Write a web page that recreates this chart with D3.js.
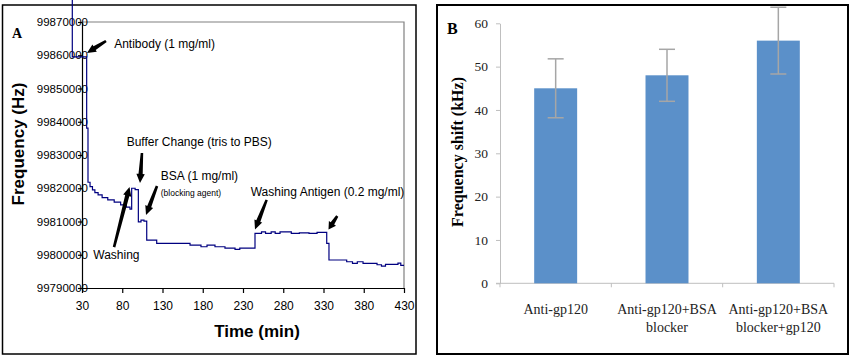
<!DOCTYPE html>
<html>
<head>
<meta charset="utf-8">
<script src="https://cdn.jsdelivr.net/npm/d3@7"></script>
<style>
body { margin: 0; background: #fff; }
svg { display: block; }
</style>
</head>
<body>
<script>
// ---- Panel A: frequency trace (time in min, frequency in Hz)
var traceTime = [17.95, 17.95, 35.8, 37.45, 40, 43, 46, 50, 55, 62, 70, 78, 85, 89.6, 91.7, 96, 100, 103.3, 107,
    110.4, 122.8, 164.2, 177.8, 185.3, 195.2, 207.6, 220.1, 226, 232.5, 244.9, 250, 253, 258, 265, 270, 276, 290,
    300, 312, 322, 334.0, 336.8, 358.8, 366, 372, 379.1, 396.5, 402, 407, 415.1, 422.5, 426, 430];
var traceFreq = [99876600, 99859500, 99838100, 99821800, 99820500, 99819500, 99818700, 99818000, 99817200, 99816500,
    99815800, 99815000, 99814300, 99813700, 99820000, 99819600, 99809900, 99810400, 99810100,
    99804400, 99803400, 99802900, 99802400, 99802900, 99802400, 99802000, 99801600, 99802000, 99802000, 99806450,
    99806450, 99806900, 99806450, 99806900, 99806450, 99806900, 99806450,
    99806600, 99806450, 99806700, 99803440, 99798420, 99797900, 99797400, 99797900, 99797400, 99797000, 99796600,
    99797100, 99797100, 99797500, 99796800, 99796800];
var timeTicks = [30, 80, 130, 180, 230, 280, 330, 380, 430];
var freqTicks = [99790000, 99800000, 99810000, 99820000, 99830000, 99840000, 99850000, 99860000, 99870000];

// annotations (anchor in time / frequency units)
var noteText = ["Antibody (1 mg/ml)", "Buffer Change (tris to PBS)", "BSA (1 mg/ml)", "(blocking agent)",
    "Washing", "Washing Antigen (0.2 mg/ml)"];
var noteTime = [70, 85.5, 127.8, 127.8, 44, 239.6];
var noteFreq = [99862200, 99832700, 99822500, 99817700, 99798700, 99817700];
var arrowFrom = [[59.8, 99864300], [104.5, 99830600], [123.2, 99820700], [69.8, 99802300], [259.4, 99816500], [347.1, 99811650]];
var arrowTo = [[36.2, 99860700], [102.0, 99821600], [109.5, 99811950], [89.0, 99820400], [244.9, 99807600], [336.2, 99807600]];

// ---- Panel B: frequency shift bars (kHz)
var categories = ["Anti-gp120", "Anti-gp120+BSA blocker", "Anti-gp120+BSA blocker+gp120"];
var shiftValues = [45, 48, 56];
var shiftErrors = [6.8, 6.0, 7.7];
var shiftTicks = [0, 10, 20, 30, 40, 50, 60];

var svg = d3.select("body").append("svg")
    .attr("width", 850)
    .attr("height", 364);

// panel frames
svg.append("rect").attr("x", 2.5).attr("y", 5).attr("width", 413.5).attr("height", 349)
    .attr("fill", "none").attr("stroke", "#000").attr("stroke-width", 1.5);
svg.append("rect").attr("x", 437).attr("y", 5).attr("width", 411).attr("height", 349)
    .attr("fill", "none").attr("stroke", "#000").attr("stroke-width", 2);

// ================= Panel A =================
var xA = d3.scaleLinear().domain([30, 430]).range([82, 404]);
var yA = d3.scaleLinear().domain([99790000, 99870000]).range([288, 22]);

var gA = svg.append("g");

// gray top / right frame of the plot area
gA.append("path")
    .attr("d", "M" + xA(30) + "," + yA(99870000) + "H" + xA(430) + "V" + yA(99790000))
    .attr("fill", "none").attr("stroke", "#808080").attr("stroke-width", 1.2);

var axA = gA.append("g")
    .attr("transform", "translate(0," + yA(99790000) + ")")
    .call(d3.axisBottom(xA).tickValues(timeTicks).tickSize(5).tickSizeOuter(0).tickPadding(8.5));
axA.selectAll("text").attr("font-family", "Liberation Sans, Arial, sans-serif").attr("font-size", 12).attr("fill", "#000");

var ayA = gA.append("g")
    .attr("transform", "translate(" + xA(30) + ",0)")
    .call(d3.axisLeft(yA).tickValues(freqTicks).tickSize(4).tickSizeOuter(0).tickPadding(-10)
        .tickFormat(d3.format("d")));
ayA.selectAll("text").attr("font-family", "Liberation Sans, Arial, sans-serif").attr("font-size", 11.5).attr("fill", "#000");
gA.selectAll(".domain, .tick line").attr("stroke", "#000").attr("stroke-width", 1.2);

// axis titles
gA.append("text")
    .attr("x", 257).attr("y", 337)
    .attr("text-anchor", "middle")
    .attr("font-family", "Liberation Sans, Arial, sans-serif")
    .attr("font-weight", "bold").attr("font-size", 17)
    .text("Time (min)");
gA.append("text")
    .attr("transform", "translate(24,144) rotate(-90)")
    .attr("text-anchor", "middle")
    .attr("font-family", "Liberation Sans, Arial, sans-serif")
    .attr("font-weight", "bold").attr("font-size", 17)
    .text("Frequency (Hz)");
gA.append("text")
    .attr("x", 12).attr("y", 38)
    .attr("font-family", "Liberation Serif, Times New Roman, serif")
    .attr("font-weight", "bold").attr("font-size", 14)
    .text("A");

// trace
var trace = traceTime.map(function(t, i) { return [t, traceFreq[i]]; });
var line = d3.line()
    .x(function(d) { return xA(d[0]); })
    .y(function(d) { return yA(d[1]); })
    .curve(d3.curveStepAfter);
gA.append("path")
    .datum(trace)
    .attr("d", line)
    .attr("fill", "none")
    .attr("stroke", "#000080")
    .attr("stroke-width", 1.2);

// annotation labels
gA.selectAll(".note")
    .data(noteText)
    .enter().append("text")
    .attr("class", "note")
    .attr("x", function(d, i) { return xA(noteTime[i]); })
    .attr("y", function(d, i) { return yA(noteFreq[i]); })
    .attr("font-family", "Liberation Sans, Arial, sans-serif")
    .attr("font-size", function(d) { return d === "(blocking agent)" ? 8.5 : 12; })
    .text(function(d) { return d; });

// thick black arrows
function arrowPath(a, b) {
    var x0 = xA(a[0]), y0 = yA(a[1]), x1 = xA(b[0]), y1 = yA(b[1]);
    var dx = x1 - x0, dy = y1 - y0, L = Math.sqrt(dx * dx + dy * dy);
    var ux = dx / L, uy = dy / L, nx = -uy, ny = ux;
    var hl = Math.min(9, L * 0.45), hw = 4.2, sw = 2.1;
    var bx = x1 - ux * hl, by = y1 - uy * hl;
    var p = [
        [x0 + nx * sw * 0.6, y0 + ny * sw * 0.6],
        [bx + nx * sw, by + ny * sw],
        [bx + nx * hw, by + ny * hw],
        [x1, y1],
        [bx - nx * hw, by - ny * hw],
        [bx - nx * sw, by - ny * sw],
        [x0 - nx * sw * 0.6, y0 - ny * sw * 0.6]
    ];
    return "M" + p.map(function(q) { return q[0].toFixed(1) + "," + q[1].toFixed(1); }).join("L") + "Z";
}
gA.selectAll(".arrow")
    .data(arrowFrom)
    .enter().append("path")
    .attr("class", "arrow")
    .attr("d", function(d, i) { return arrowPath(d, arrowTo[i]); })
    .attr("fill", "#000");

// ================= Panel B =================
var xB = d3.scaleBand().domain(categories).range([500, 834]).paddingInner(0.614).paddingOuter(0.307);
var yB = d3.scaleLinear().domain([0, 60]).range([283.3, 23.3]);
var gB = svg.append("g");

var ayB = gB.append("g")
    .attr("transform", "translate(500,0)")
    .call(d3.axisLeft(yB).tickValues(shiftTicks).tickSize(4).tickSizeOuter(0).tickPadding(8));
ayB.selectAll("text").attr("font-family", "Liberation Serif, Times New Roman, serif").attr("font-size", 13.5).attr("fill", "#222");
ayB.selectAll(".domain, .tick line").attr("stroke", "#bfbfbf");

// category axis line with boundary ticks
gB.append("line")
    .attr("x1", 496).attr("x2", xB.range()[1])
    .attr("y1", yB(0)).attr("y2", yB(0))
    .attr("stroke", "#bfbfbf");
gB.selectAll(".btick")
    .data(d3.range(categories.length + 1))
    .enter().append("line")
    .attr("class", "btick")
    .attr("x1", function(i) { return xB.range()[0] + i * xB.step(); })
    .attr("x2", function(i) { return xB.range()[0] + i * xB.step(); })
    .attr("y1", yB(0)).attr("y2", yB(0) + 4)
    .attr("stroke", "#bfbfbf");

// bars
gB.selectAll(".bar")
    .data(categories)
    .enter().append("rect")
    .attr("class", "bar")
    .attr("x", function(d) { return xB(d); })
    .attr("width", xB.bandwidth())
    .attr("y", function(d, i) { return yB(shiftValues[i]); })
    .attr("height", function(d, i) { return yB(0) - yB(shiftValues[i]); })
    .attr("fill", "#5b90c9");

// error bars
var eb = gB.selectAll(".err")
    .data(categories)
    .enter().append("g")
    .attr("class", "err")
    .attr("stroke", "#a6a6a6")
    .attr("stroke-width", 1.5);
eb.append("line")
    .attr("x1", function(d) { return xB(d) + xB.bandwidth() / 2; })
    .attr("x2", function(d) { return xB(d) + xB.bandwidth() / 2; })
    .attr("y1", function(d, i) { return yB(shiftValues[i] + shiftErrors[i]); })
    .attr("y2", function(d, i) { return yB(shiftValues[i] - shiftErrors[i]); });
[1, -1].forEach(function(s) {
    eb.append("line")
        .attr("x1", function(d) { return xB(d) + xB.bandwidth() / 2 - 8; })
        .attr("x2", function(d) { return xB(d) + xB.bandwidth() / 2 + 8; })
        .attr("y1", function(d, i) { return yB(shiftValues[i] + s * shiftErrors[i]); })
        .attr("y2", function(d, i) { return yB(shiftValues[i] + s * shiftErrors[i]); });
});

// category labels (wrapped at the space)
gB.selectAll(".cat")
    .data(categories)
    .enter().append("text")
    .attr("class", "cat")
    .attr("text-anchor", "middle")
    .attr("font-family", "Liberation Serif, Times New Roman, serif")
    .attr("font-size", 14)
    .attr("fill", "#222")
    .each(function(d) {
        var t = d3.select(this);
        d.split(" ").forEach(function(part, j) {
            t.append("tspan")
                .attr("x", xB(d) + xB.bandwidth() / 2)
                .attr("y", 314 + j * 18)
                .text(part);
        });
    });

// titles
gB.append("text")
    .attr("transform", "translate(463,152) rotate(-90)")
    .attr("text-anchor", "middle")
    .attr("font-family", "Liberation Serif, Times New Roman, serif")
    .attr("font-weight", "bold").attr("font-size", 16)
    .text("Frequency shift (kHz)");
gB.append("text")
    .attr("x", 447).attr("y", 34)
    .attr("font-family", "Liberation Serif, Times New Roman, serif")
    .attr("font-weight", "bold").attr("font-size", 16)
    .text("B");
</script>
</body>
</html>
